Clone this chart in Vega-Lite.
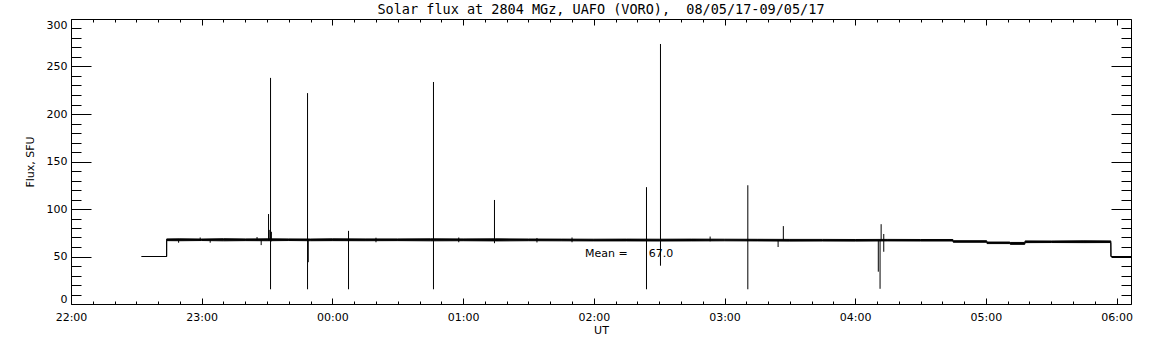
{
  "$schema": "https://vega.github.io/schema/vega-lite/v6.json",
  "width": 1060,
  "height": 285,
  "autosize": {"type": "none"},
  "padding": {"left": 71, "top": 19, "right": 21, "bottom": 41},
  "background": "white",
  "title": {
    "text": "Solar flux at 2804 MGz, UAFO (VORO),\u00a0 08/05/17-09/05/17",
    "anchor": "middle",
    "frame": "group",
    "offset": -8.5,
    "baseline": "alphabetic",
    "font": "DejaVu Sans Mono",
    "fontSize": 13.5,
    "fontWeight": "normal",
    "color": "black"
  },
  "datasets": {
    "envelope": [
      {"t": "2017-05-08T22:32:24", "lo": 50, "hi": 50},
      {"t": "2017-05-08T22:43:54", "lo": 50, "hi": 50},
      {"t": "2017-05-08T22:43:55", "lo": 66.7, "hi": 68.5},
      {"t": "2017-05-08T22:50:00", "lo": 66.6, "hi": 68.6},
      {"t": "2017-05-08T23:00:00", "lo": 66.8, "hi": 68.4},
      {"t": "2017-05-08T23:10:00", "lo": 66.5, "hi": 68.7},
      {"t": "2017-05-08T23:20:00", "lo": 66.7, "hi": 68.5},
      {"t": "2017-05-08T23:30:00", "lo": 66.6, "hi": 68.6},
      {"t": "2017-05-08T23:40:00", "lo": 66.8, "hi": 68.5},
      {"t": "2017-05-08T23:50:00", "lo": 66.6, "hi": 68.4},
      {"t": "2017-05-09T00:00:00", "lo": 66.7, "hi": 68.6},
      {"t": "2017-05-09T00:15:00", "lo": 66.6, "hi": 68.5},
      {"t": "2017-05-09T00:30:00", "lo": 66.7, "hi": 68.5},
      {"t": "2017-05-09T00:45:00", "lo": 66.5, "hi": 68.6},
      {"t": "2017-05-09T01:00:00", "lo": 66.6, "hi": 68.5},
      {"t": "2017-05-09T01:15:00", "lo": 66.4, "hi": 68.6},
      {"t": "2017-05-09T01:30:00", "lo": 66.6, "hi": 68.4},
      {"t": "2017-05-09T01:45:00", "lo": 66.5, "hi": 68.3},
      {"t": "2017-05-09T02:00:00", "lo": 66.4, "hi": 68.2},
      {"t": "2017-05-09T02:15:00", "lo": 66.4, "hi": 68.3},
      {"t": "2017-05-09T02:30:00", "lo": 66.3, "hi": 68.2},
      {"t": "2017-05-09T02:45:00", "lo": 66.4, "hi": 68.3},
      {"t": "2017-05-09T03:00:00", "lo": 66.5, "hi": 68.2},
      {"t": "2017-05-09T03:15:00", "lo": 66.4, "hi": 68.1},
      {"t": "2017-05-09T03:30:00", "lo": 66.2, "hi": 68.0},
      {"t": "2017-05-09T03:45:00", "lo": 66.3, "hi": 68.0},
      {"t": "2017-05-09T04:00:00", "lo": 66.2, "hi": 67.9},
      {"t": "2017-05-09T04:15:00", "lo": 66.4, "hi": 68.0},
      {"t": "2017-05-09T04:30:00", "lo": 66.3, "hi": 67.9},
      {"t": "2017-05-09T04:44:50", "lo": 66.3, "hi": 67.9},
      {"t": "2017-05-09T04:45:00", "lo": 65.0, "hi": 66.6},
      {"t": "2017-05-09T05:00:20", "lo": 65.0, "hi": 66.6},
      {"t": "2017-05-09T05:00:30", "lo": 63.6, "hi": 65.2},
      {"t": "2017-05-09T05:11:00", "lo": 63.6, "hi": 65.2},
      {"t": "2017-05-09T05:11:10", "lo": 62.8, "hi": 64.8},
      {"t": "2017-05-09T05:17:50", "lo": 62.8, "hi": 64.8},
      {"t": "2017-05-09T05:18:00", "lo": 64.6, "hi": 66.4},
      {"t": "2017-05-09T05:30:00", "lo": 64.7, "hi": 66.3},
      {"t": "2017-05-09T05:45:00", "lo": 64.6, "hi": 66.5},
      {"t": "2017-05-09T05:57:20", "lo": 64.7, "hi": 66.4},
      {"t": "2017-05-09T05:57:24", "lo": 50, "hi": 50},
      {"t": "2017-05-09T06:06:36", "lo": 50, "hi": 50}
    ],
    "spikes": [
      {"t": "2017-05-08T22:49:24", "lo": 64.5, "hi": 67},
      {"t": "2017-05-08T22:59:18", "lo": 67, "hi": 70},
      {"t": "2017-05-08T23:03:54", "lo": 64.5, "hi": 67},
      {"t": "2017-05-08T23:25:24", "lo": 67, "hi": 70.5},
      {"t": "2017-05-08T23:27:18", "lo": 62, "hi": 67},
      {"t": "2017-05-08T23:30:41", "lo": 67, "hi": 94.7},
      {"t": "2017-05-08T23:31:00", "lo": 67, "hi": 78},
      {"t": "2017-05-08T23:31:36", "lo": 15.5, "hi": 238},
      {"t": "2017-05-08T23:32:00", "lo": 66, "hi": 76},
      {"t": "2017-05-08T23:48:35", "lo": 15.5, "hi": 222},
      {"t": "2017-05-08T23:48:55", "lo": 44, "hi": 68},
      {"t": "2017-05-09T00:07:24", "lo": 15.5, "hi": 77},
      {"t": "2017-05-09T00:20:00", "lo": 65, "hi": 69.8},
      {"t": "2017-05-09T00:46:24", "lo": 15.5, "hi": 233.7},
      {"t": "2017-05-09T00:58:00", "lo": 65, "hi": 70},
      {"t": "2017-05-09T01:14:24", "lo": 64, "hi": 109.5},
      {"t": "2017-05-09T01:33:54", "lo": 64.8, "hi": 69.5},
      {"t": "2017-05-09T01:50:00", "lo": 65, "hi": 70},
      {"t": "2017-05-09T02:24:11", "lo": 15.5, "hi": 123},
      {"t": "2017-05-09T02:30:36", "lo": 40.3, "hi": 273.7},
      {"t": "2017-05-09T02:53:24", "lo": 66, "hi": 71},
      {"t": "2017-05-09T03:10:42", "lo": 15.5, "hi": 125},
      {"t": "2017-05-09T03:24:36", "lo": 60, "hi": 67},
      {"t": "2017-05-09T03:27:00", "lo": 67, "hi": 82},
      {"t": "2017-05-09T04:10:36", "lo": 34, "hi": 67},
      {"t": "2017-05-09T04:11:24", "lo": 16, "hi": 67},
      {"t": "2017-05-09T04:11:54", "lo": 67, "hi": 84},
      {"t": "2017-05-09T04:13:06", "lo": 55, "hi": 73.7}
    ],
    "notes": [
      {"t": "2017-05-09T01:56:00", "flux": 49.8, "label": "Mean =\u00a0\u00a0\u00a0\u00a0\u00a0\u00a067.0"}
    ]
  },
  "layer": [
    {
      "data": {"name": "envelope"},
      "mark": {"type": "area", "color": "black", "stroke": "black", "strokeWidth": 1},
      "encoding": {
        "x": {
          "field": "t", "type": "temporal",
          "scale": {"domain": [{"year": 2017, "month": 5, "date": 8, "hours": 22}, {"year": 2017, "month": 5, "date": 9, "hours": 6, "minutes": 6, "seconds": 36}], "nice": false},
          "axis": {
            "orient": "bottom",
            "values": [
              {"year": 2017, "month": 5, "date": 8, "hours": 22, "minutes": 0},
              {"year": 2017, "month": 5, "date": 8, "hours": 22, "minutes": 10},
              {"year": 2017, "month": 5, "date": 8, "hours": 22, "minutes": 20},
              {"year": 2017, "month": 5, "date": 8, "hours": 22, "minutes": 30},
              {"year": 2017, "month": 5, "date": 8, "hours": 22, "minutes": 40},
              {"year": 2017, "month": 5, "date": 8, "hours": 22, "minutes": 50},
              {"year": 2017, "month": 5, "date": 8, "hours": 23, "minutes": 0},
              {"year": 2017, "month": 5, "date": 8, "hours": 23, "minutes": 10},
              {"year": 2017, "month": 5, "date": 8, "hours": 23, "minutes": 20},
              {"year": 2017, "month": 5, "date": 8, "hours": 23, "minutes": 30},
              {"year": 2017, "month": 5, "date": 8, "hours": 23, "minutes": 40},
              {"year": 2017, "month": 5, "date": 8, "hours": 23, "minutes": 50},
              {"year": 2017, "month": 5, "date": 9, "hours": 0, "minutes": 0},
              {"year": 2017, "month": 5, "date": 9, "hours": 0, "minutes": 10},
              {"year": 2017, "month": 5, "date": 9, "hours": 0, "minutes": 20},
              {"year": 2017, "month": 5, "date": 9, "hours": 0, "minutes": 30},
              {"year": 2017, "month": 5, "date": 9, "hours": 0, "minutes": 40},
              {"year": 2017, "month": 5, "date": 9, "hours": 0, "minutes": 50},
              {"year": 2017, "month": 5, "date": 9, "hours": 1, "minutes": 0},
              {"year": 2017, "month": 5, "date": 9, "hours": 1, "minutes": 10},
              {"year": 2017, "month": 5, "date": 9, "hours": 1, "minutes": 20},
              {"year": 2017, "month": 5, "date": 9, "hours": 1, "minutes": 30},
              {"year": 2017, "month": 5, "date": 9, "hours": 1, "minutes": 40},
              {"year": 2017, "month": 5, "date": 9, "hours": 1, "minutes": 50},
              {"year": 2017, "month": 5, "date": 9, "hours": 2, "minutes": 0},
              {"year": 2017, "month": 5, "date": 9, "hours": 2, "minutes": 10},
              {"year": 2017, "month": 5, "date": 9, "hours": 2, "minutes": 20},
              {"year": 2017, "month": 5, "date": 9, "hours": 2, "minutes": 30},
              {"year": 2017, "month": 5, "date": 9, "hours": 2, "minutes": 40},
              {"year": 2017, "month": 5, "date": 9, "hours": 2, "minutes": 50},
              {"year": 2017, "month": 5, "date": 9, "hours": 3, "minutes": 0},
              {"year": 2017, "month": 5, "date": 9, "hours": 3, "minutes": 10},
              {"year": 2017, "month": 5, "date": 9, "hours": 3, "minutes": 20},
              {"year": 2017, "month": 5, "date": 9, "hours": 3, "minutes": 30},
              {"year": 2017, "month": 5, "date": 9, "hours": 3, "minutes": 40},
              {"year": 2017, "month": 5, "date": 9, "hours": 3, "minutes": 50},
              {"year": 2017, "month": 5, "date": 9, "hours": 4, "minutes": 0},
              {"year": 2017, "month": 5, "date": 9, "hours": 4, "minutes": 10},
              {"year": 2017, "month": 5, "date": 9, "hours": 4, "minutes": 20},
              {"year": 2017, "month": 5, "date": 9, "hours": 4, "minutes": 30},
              {"year": 2017, "month": 5, "date": 9, "hours": 4, "minutes": 40},
              {"year": 2017, "month": 5, "date": 9, "hours": 4, "minutes": 50},
              {"year": 2017, "month": 5, "date": 9, "hours": 5, "minutes": 0},
              {"year": 2017, "month": 5, "date": 9, "hours": 5, "minutes": 10},
              {"year": 2017, "month": 5, "date": 9, "hours": 5, "minutes": 20},
              {"year": 2017, "month": 5, "date": 9, "hours": 5, "minutes": 30},
              {"year": 2017, "month": 5, "date": 9, "hours": 5, "minutes": 40},
              {"year": 2017, "month": 5, "date": 9, "hours": 5, "minutes": 50},
              {"year": 2017, "month": 5, "date": 9, "hours": 6, "minutes": 0}
            ],
            "labelExpr": "minutes(datum.value) == 0 ? timeFormat(datum.value, '%H:%M') : ''",
            "tickSize": -6,
            "tickDash": {"condition": {"test": "minutes(datum.value) != 0", "value": [3, 20]}, "value": [20, 0]},
            "labelPadding": 22.5,
            "labelBaseline": "alphabetic",
            "labelFlush": false,
            "labelOverlap": false,
            "labelBound": false,
            "title": "UT",
            "titleX": 530,
            "titleY": 29.5,
            "titleBaseline": "alphabetic",
            "titleAlign": "center"
          }
        },
        "y": {
          "field": "lo", "type": "quantitative",
          "scale": {"domain": [0, 300], "nice": false, "zero": false},
          "axis": {
            "orient": "left",
            "values": [0, 10, 20, 30, 40, 50, 60, 70, 80, 90, 100, 110, 120, 130, 140, 150, 160, 170, 180, 190, 200, 210, 220, 230, 240, 250, 260, 270, 280, 290, 300],
            "labelExpr": "datum.value % 50 == 0 ? datum.label : ''",
            "tickSize": -20,
            "tickDash": {"condition": {"test": "datum.value % 50 != 0", "value": [10, 40]}, "value": [40, 0]},
            "labelPadding": 24,
            "labelFlush": true,
            "labelOverlap": false,
            "title": "Flux, SFU",
            "titleX": -38,
            "titleY": 142.5,
            "titleAngle": -90,
            "titleBaseline": "alphabetic",
            "titleAlign": "center"
          }
        },
        "y2": {"field": "hi"}
      }
    },
    {
      "data": {"name": "spikes"},
      "mark": {"type": "rule", "color": "black", "strokeWidth": 1},
      "encoding": {
        "x": {
          "field": "t", "type": "temporal",
          "axis": {
            "orient": "top",
            "values": [
              {"year": 2017, "month": 5, "date": 8, "hours": 22, "minutes": 0},
              {"year": 2017, "month": 5, "date": 8, "hours": 22, "minutes": 10},
              {"year": 2017, "month": 5, "date": 8, "hours": 22, "minutes": 20},
              {"year": 2017, "month": 5, "date": 8, "hours": 22, "minutes": 30},
              {"year": 2017, "month": 5, "date": 8, "hours": 22, "minutes": 40},
              {"year": 2017, "month": 5, "date": 8, "hours": 22, "minutes": 50},
              {"year": 2017, "month": 5, "date": 8, "hours": 23, "minutes": 0},
              {"year": 2017, "month": 5, "date": 8, "hours": 23, "minutes": 10},
              {"year": 2017, "month": 5, "date": 8, "hours": 23, "minutes": 20},
              {"year": 2017, "month": 5, "date": 8, "hours": 23, "minutes": 30},
              {"year": 2017, "month": 5, "date": 8, "hours": 23, "minutes": 40},
              {"year": 2017, "month": 5, "date": 8, "hours": 23, "minutes": 50},
              {"year": 2017, "month": 5, "date": 9, "hours": 0, "minutes": 0},
              {"year": 2017, "month": 5, "date": 9, "hours": 0, "minutes": 10},
              {"year": 2017, "month": 5, "date": 9, "hours": 0, "minutes": 20},
              {"year": 2017, "month": 5, "date": 9, "hours": 0, "minutes": 30},
              {"year": 2017, "month": 5, "date": 9, "hours": 0, "minutes": 40},
              {"year": 2017, "month": 5, "date": 9, "hours": 0, "minutes": 50},
              {"year": 2017, "month": 5, "date": 9, "hours": 1, "minutes": 0},
              {"year": 2017, "month": 5, "date": 9, "hours": 1, "minutes": 10},
              {"year": 2017, "month": 5, "date": 9, "hours": 1, "minutes": 20},
              {"year": 2017, "month": 5, "date": 9, "hours": 1, "minutes": 30},
              {"year": 2017, "month": 5, "date": 9, "hours": 1, "minutes": 40},
              {"year": 2017, "month": 5, "date": 9, "hours": 1, "minutes": 50},
              {"year": 2017, "month": 5, "date": 9, "hours": 2, "minutes": 0},
              {"year": 2017, "month": 5, "date": 9, "hours": 2, "minutes": 10},
              {"year": 2017, "month": 5, "date": 9, "hours": 2, "minutes": 20},
              {"year": 2017, "month": 5, "date": 9, "hours": 2, "minutes": 30},
              {"year": 2017, "month": 5, "date": 9, "hours": 2, "minutes": 40},
              {"year": 2017, "month": 5, "date": 9, "hours": 2, "minutes": 50},
              {"year": 2017, "month": 5, "date": 9, "hours": 3, "minutes": 0},
              {"year": 2017, "month": 5, "date": 9, "hours": 3, "minutes": 10},
              {"year": 2017, "month": 5, "date": 9, "hours": 3, "minutes": 20},
              {"year": 2017, "month": 5, "date": 9, "hours": 3, "minutes": 30},
              {"year": 2017, "month": 5, "date": 9, "hours": 3, "minutes": 40},
              {"year": 2017, "month": 5, "date": 9, "hours": 3, "minutes": 50},
              {"year": 2017, "month": 5, "date": 9, "hours": 4, "minutes": 0},
              {"year": 2017, "month": 5, "date": 9, "hours": 4, "minutes": 10},
              {"year": 2017, "month": 5, "date": 9, "hours": 4, "minutes": 20},
              {"year": 2017, "month": 5, "date": 9, "hours": 4, "minutes": 30},
              {"year": 2017, "month": 5, "date": 9, "hours": 4, "minutes": 40},
              {"year": 2017, "month": 5, "date": 9, "hours": 4, "minutes": 50},
              {"year": 2017, "month": 5, "date": 9, "hours": 5, "minutes": 0},
              {"year": 2017, "month": 5, "date": 9, "hours": 5, "minutes": 10},
              {"year": 2017, "month": 5, "date": 9, "hours": 5, "minutes": 20},
              {"year": 2017, "month": 5, "date": 9, "hours": 5, "minutes": 30},
              {"year": 2017, "month": 5, "date": 9, "hours": 5, "minutes": 40},
              {"year": 2017, "month": 5, "date": 9, "hours": 5, "minutes": 50},
              {"year": 2017, "month": 5, "date": 9, "hours": 6, "minutes": 0}
            ],
            "labels": false,
            "tickSize": -6,
            "tickDash": {"condition": {"test": "minutes(datum.value) != 0", "value": [3, 20]}, "value": [20, 0]},
            "title": null
          }
        },
        "y": {
          "field": "lo", "type": "quantitative",
          "axis": {
            "orient": "right",
            "values": [0, 10, 20, 30, 40, 50, 60, 70, 80, 90, 100, 110, 120, 130, 140, 150, 160, 170, 180, 190, 200, 210, 220, 230, 240, 250, 260, 270, 280, 290, 300],
            "labels": false,
            "tickSize": -20,
            "tickDash": {"condition": {"test": "datum.value % 50 != 0", "value": [10, 40]}, "value": [40, 0]},
            "title": null
          }
        },
        "y2": {"field": "hi"}
      }
    },
    {
      "data": {"name": "notes"},
      "mark": {"type": "text", "align": "left", "baseline": "alphabetic", "font": "DejaVu Sans", "fontSize": 11, "color": "black"},
      "encoding": {
        "x": {"field": "t", "type": "temporal", "axis": null},
        "y": {"field": "flux", "type": "quantitative", "axis": null},
        "text": {"field": "label"}
      }
    }
  ],
  "resolve": {"axis": {"x": "independent", "y": "independent"}},
  "config": {
    "view": {"stroke": null},
    "axis": {
      "grid": false,
      "domainColor": "black",
      "tickColor": "black",
      "labelFont": "DejaVu Sans",
      "labelFontSize": 11,
      "labelColor": "black",
      "titleFont": "DejaVu Sans",
      "titleFontSize": 11,
      "titleFontWeight": "normal",
      "titleColor": "black"
    }
  }
}
